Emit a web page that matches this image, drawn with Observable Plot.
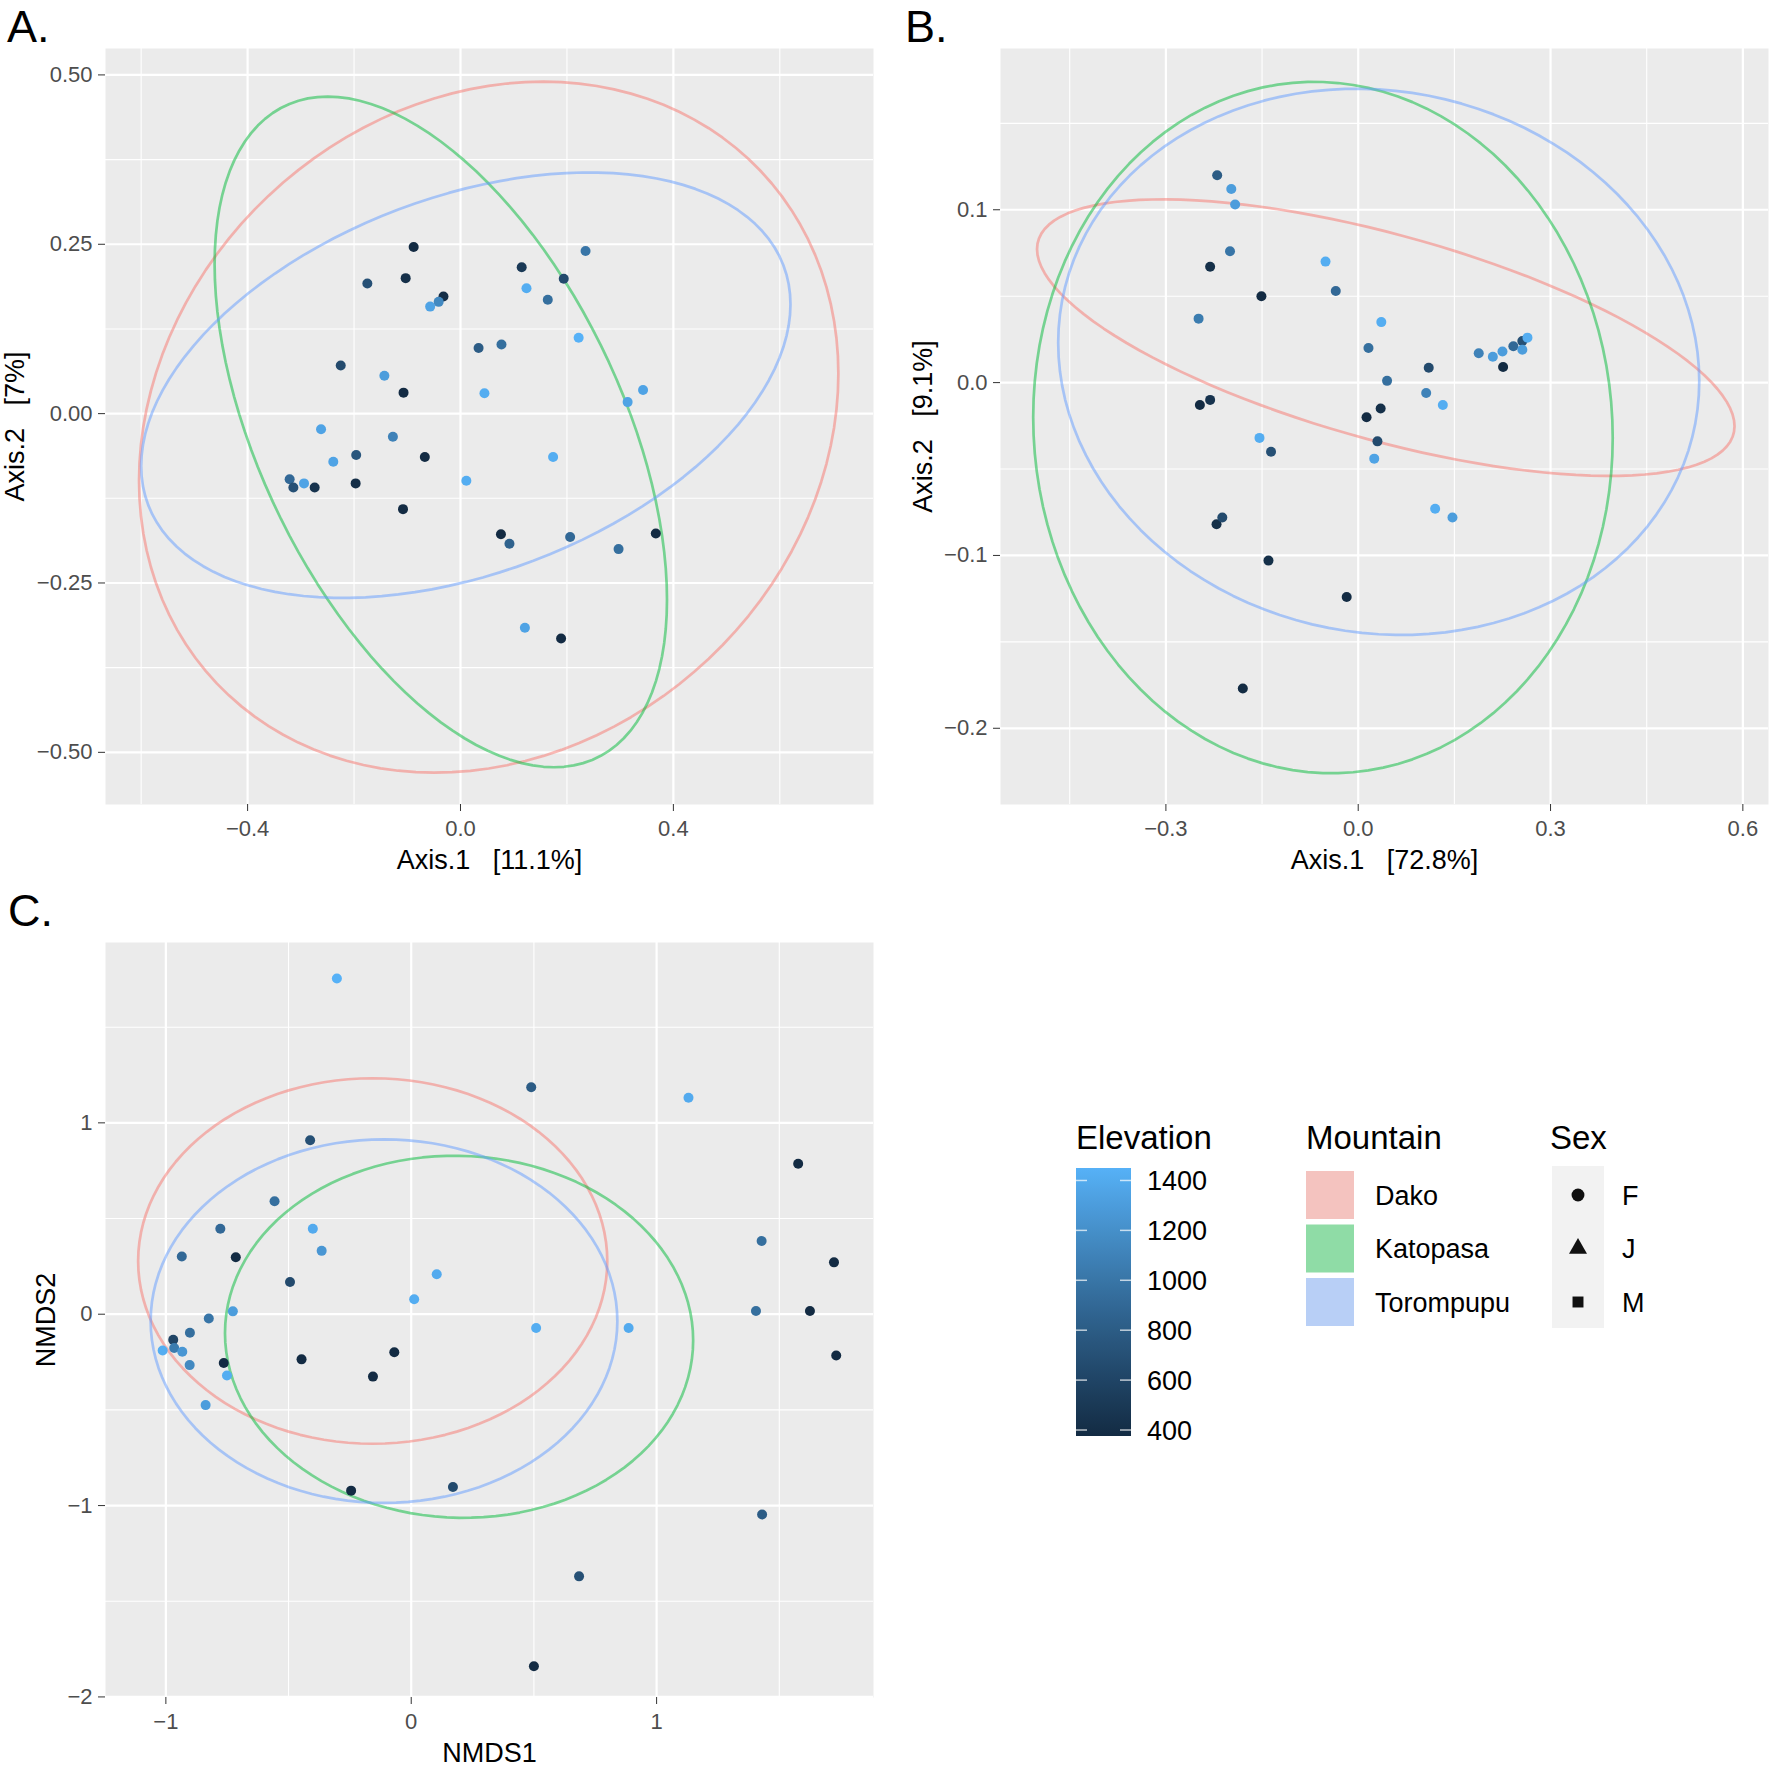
<!DOCTYPE html>
<html>
<head>
<meta charset="utf-8">
<script src="https://cdn.jsdelivr.net/npm/d3@7"></script>
<script src="https://cdn.jsdelivr.net/npm/@observablehq/plot@0.6"></script>
<style>
  html, body { margin: 0; padding: 0; background: #fff; }
  #fig { position: relative; width: 1770px; height: 1768px; overflow: hidden; background: #fff;
         font-family: "Liberation Sans", Arial, Helvetica, sans-serif; }
  #fig > .panel { position: absolute; }
  #fig > svg.overlay { position: absolute; left: 0; top: 0; pointer-events: none; }
</style>
</head>
<body>
<div id="fig"></div>
<script>
// ---------------- DATA ----------------
// Panel A (PCoA): Axis.1 [11.1%] vs Axis.2 [7%]
const aAxis1 = [-0.088, 0.235, 0.115, -0.175, -0.103, 0.194, -0.032, -0.057, -0.041, 0.124,
                 0.164, 0.222, 0.034, 0.077, -0.225, -0.143, -0.107, 0.045, 0.343, 0.314,
                -0.262, -0.127, -0.239, -0.196, -0.067, 0.174, -0.321, -0.314, -0.294, -0.274,
                -0.197, 0.011, -0.108, 0.076, 0.092, 0.206, 0.367, 0.297, 0.121, 0.189];
const aAxis2 = [0.246, 0.240, 0.216, 0.192, 0.200, 0.199, 0.173, 0.158, 0.165, 0.185,
                0.168, 0.112, 0.097, 0.102, 0.071, 0.056, 0.031, 0.030, 0.035, 0.017,
               -0.023, -0.034, -0.071, -0.061, -0.064, -0.064, -0.097, -0.109, -0.103, -0.109,
               -0.103, -0.099, -0.141, -0.178, -0.192, -0.182, -0.177, -0.200, -0.316, -0.332];
const aElev  = [376, 1000, 500, 700, 420, 650, 400, 1350, 1150, 1420,
                950, 1450, 800, 950, 650, 1300, 376, 1420, 1350, 1350,
                1350, 1100, 1350, 750, 376, 1420, 900, 700, 1350, 450,
                400, 1420, 376, 376, 850, 900, 376, 950, 1350, 376];

// Panel B (PCoA): Axis.1 [72.8%] vs Axis.2 [9.1%]
const bAxis1 = [-0.220, -0.198, -0.192, -0.200, -0.231, -0.151, -0.051, -0.035, -0.249, 0.036,
                 0.016, 0.045, 0.110, 0.106, 0.132, 0.188, 0.210, 0.225, 0.242, 0.256,
                 0.264, 0.256, 0.226, -0.247, -0.231, 0.013, 0.035, 0.030, 0.025, -0.154,
                -0.136, 0.120, 0.147, -0.221, -0.212, -0.140, -0.018, -0.180];
const bAxis2 = [0.120, 0.112, 0.103, 0.076, 0.067, 0.050, 0.070, 0.053, 0.037, 0.035,
                0.020, 0.001, 0.0086, -0.006, -0.013, 0.017, 0.015, 0.018, 0.021, 0.024,
                0.026, 0.019, 0.009, -0.013, -0.010, -0.020, -0.015, -0.034, -0.044, -0.032,
               -0.040, -0.073, -0.078, -0.082, -0.078, -0.103, -0.124, -0.177];
const bElev  = [800, 1300, 1300, 1000, 420, 376, 1420, 900, 1050, 1420,
                950, 950, 650, 1100, 1420, 1100, 1300, 1300, 900, 700,
                1420, 1300, 376, 376, 450, 376, 420, 650, 1350, 1420,
                700, 1420, 1300, 420, 650, 420, 376, 376];

// Panel C (NMDS): NMDS1 vs NMDS2
const cNMDS1 = [-0.303, -0.412, -0.557, -0.778, -0.401, -0.365, -0.935, -0.715, -0.494, 0.104,
                 0.012, -0.727, -0.825, -0.902, -0.970, -1.013, -0.966, -0.933, -0.903, -0.764,
                -0.751, -0.838, -0.447, -0.069, -0.156, -0.245, 0.170, 0.489, 1.130, 1.577,
                 1.428, 1.723, 1.405, 1.625, 1.732, 0.509, 0.886, 1.430, 0.684, 0.500];
const cNMDS2 = [1.754, 0.909, 0.590, 0.447, 0.447, 0.331, 0.302, 0.298, 0.168, 0.209,
                0.078, 0.015, -0.022, -0.097, -0.134, -0.190, -0.177, -0.196, -0.266, -0.255,
               -0.320, -0.475, -0.236, -0.199, -0.326, -0.922, -0.903, 1.186, 1.131, 0.786,
                0.383, 0.271, 0.017, 0.017, -0.216, -0.072, -0.072, -1.047, -1.370, -1.840];
const cElev  = [1450, 700, 950, 900, 1400, 1250, 900, 376, 650, 1400,
                1420, 1300, 1000, 950, 600, 1420, 1050, 1250, 1150, 376,
                1420, 1300, 376, 376, 376, 376, 650, 800, 1400, 376,
                950, 376, 950, 376, 376, 1420, 1400, 800, 700, 376];

// Mountains (ellipse groups) and their 95% ellipse parameters: centre, half-extent, correlation
const mountains = ["Dako", "Katopasa", "Torompupu"];
const aEllCx = [0.053, -0.037, 0.010],  aEllCy = [-0.020, -0.027, 0.042];
const aEllRx = [0.657, 0.425, 0.610],   aEllRy = [0.510, 0.495, 0.314];
const aEllRho = [0.155, -0.50, 0.38];
const bEllCx = [0.043, -0.055, 0.032],  bEllCy = [0.026, -0.026, 0.012];
const bEllRx = [0.544, 0.452, 0.500],   bEllRy = [0.080, 0.200, 0.158];
const bEllRho = [-0.64, -0.03, -0.07];
const cEllCx = [-0.157, 0.195, -0.111], cEllCy = [0.278, -0.118, -0.036];
const cEllRx = [0.956, 0.954, 0.951],   cEllRy = [0.955, 0.946, 0.950];
const cEllRho = [0.0, -0.02, 0.0];

// Tick values and labels
const aXMajor = [-0.4, 0, 0.4], aXMinor = [-0.6, -0.2, 0.2, 0.6];
const aXLabels = ["\u22120.4", "0.0", "0.4"];
const aYMajor = [-0.5, -0.25, 0, 0.25, 0.5], aYMinor = [-0.375, -0.125, 0.125, 0.375];
const aYLabels = ["\u22120.50", "\u22120.25", "0.00", "0.25", "0.50"];
const bXMajor = [-0.3, 0, 0.3, 0.6], bXMinor = [-0.45, -0.15, 0.15, 0.45];
const bXLabels = ["\u22120.3", "0.0", "0.3", "0.6"];
const bYMajor = [-0.2, -0.1, 0, 0.1], bYMinor = [-0.15, -0.05, 0.05, 0.15];
const bYLabels = ["\u22120.2", "\u22120.1", "0.0", "0.1"];
const cXMajor = [-1, 0, 1], cXMinor = [-0.5, 0.5, 1.5];
const cXLabels = ["\u22121", "0", "1"];
const cYMajor = [-2, -1, 0, 1], cYMinor = [-1.5, -0.5, 0.5, 1.5];
const cYLabels = ["\u22122", "\u22121", "0", "1"];

// Legend
const elevTicks = [1400, 1200, 1000, 800, 600, 400];
const sexes = ["F", "J", "M"];
const panelLetters = ["A.", "B.", "C."];
const axisTitles = {
  a: ["Axis.1\u00a0\u00a0\u00a0[11.1%]", "Axis.2\u00a0\u00a0\u00a0[7%]"],
  b: ["Axis.1\u00a0\u00a0\u00a0[72.8%]", "Axis.2\u00a0\u00a0\u00a0[9.1%]"],
  c: ["NMDS1", "NMDS2"]
};

// ---------------- STYLE ----------------
const fontFamily = '"Liberation Sans", Arial, Helvetica, sans-serif';
const mountainStroke = ["#F8766D", "#00BA38", "#619CFF"];
const mountainKeyFill = ["#F4C3BF", "#8FDCA6", "#B8CFF6"];
const elevRange = ["#132B43", "#56B1F7"];
const elevDomain = d3.extent([...aElev, ...bElev, ...cElev]);
const colorOpts = {type: "linear", domain: elevDomain, range: elevRange, interpolate: "lab"};

function ellipsePath(cx, cy, rx, ry, rho) {
  const phi = Math.acos(rho);
  return d3.range(0, 361, 3).map(deg => {
    const t = deg * Math.PI / 180;
    return {x: cx + rx * Math.cos(t), y: cy + ry * Math.cos(t - phi)};
  });
}

function panel(cfg) {
  const pts = cfg.x.map((x, i) => ({x, y: cfg.y[i], elev: cfg.elev[i]}));
  const ells = mountains.map((m, k) =>
    ellipsePath(cfg.ell[0][k], cfg.ell[1][k], cfg.ell[2][k], cfg.ell[3][k], cfg.ell[4][k]));
  const fx = new Map(cfg.xMajor.map((v, i) => [v, cfg.xLabels[i]]));
  const fy = new Map(cfg.yMajor.map((v, i) => [v, cfg.yLabels[i]]));
  return Plot.plot({
    width: cfg.width, height: cfg.height,
    marginLeft: cfg.m[0], marginRight: cfg.m[1], marginTop: cfg.m[2], marginBottom: cfg.m[3],
    x: {domain: cfg.xDomain, axis: null},
    y: {domain: cfg.yDomain, axis: null},
    color: colorOpts,
    style: {fontFamily, background: "transparent", overflow: "visible"},
    marks: [
      Plot.frame({fill: "#EBEBEB", stroke: "none"}),
      Plot.gridX(cfg.xMinor, {stroke: "#ffffff", strokeOpacity: 1, strokeWidth: 1.1}),
      Plot.gridY(cfg.yMinor, {stroke: "#ffffff", strokeOpacity: 1, strokeWidth: 1.1}),
      Plot.gridX(cfg.xMajor, {stroke: "#ffffff", strokeOpacity: 1, strokeWidth: 2.2}),
      Plot.gridY(cfg.yMajor, {stroke: "#ffffff", strokeOpacity: 1, strokeWidth: 2.2}),
      ...ells.map((e, k) => Plot.line(e, {x: "x", y: "y", stroke: mountainStroke[k],
                                          strokeOpacity: 0.5, strokeWidth: 2.7})),
      Plot.dot(pts, {x: "x", y: "y", fill: "elev", r: 5}),
      Plot.axisX(cfg.xMajor, {tickFormat: d => fx.get(d), fontSize: 22, tickSize: 7, tickPadding: 9,
                              stroke: "#333333", fill: "#4D4D4D", label: null}),
      Plot.axisY(cfg.yMajor, {tickFormat: d => fy.get(d), fontSize: 22, tickSize: 7, tickPadding: 6,
                              stroke: "#333333", fill: "#4D4D4D", label: null}),
      Plot.text([cfg.titles[0]], {text: d => d, frameAnchor: "bottom", lineAnchor: "top",
                                  dy: 45, fontSize: 27, fill: "#000"}),
      Plot.text([cfg.titles[1]], {text: d => d, frameAnchor: "left", rotate: -90, lineAnchor: "top",
                                  textAnchor: "middle", dx: -cfg.yTitleOffset, fontSize: 27, fill: "#000"})
    ]
  });
}

const fig = document.getElementById("fig");
function place(node, left, top) {
  node.classList.add("panel");
  node.style.left = left + "px";
  node.style.top = top + "px";
  fig.appendChild(node);
}

place(panel({
  x: aAxis1, y: aAxis2, elev: aElev,
  ell: [aEllCx, aEllCy, aEllRx, aEllRy, aEllRho],
  xDomain: [-0.667, 0.776], yDomain: [-0.577, 0.539],
  xMajor: aXMajor, xMinor: aXMinor, xLabels: aXLabels,
  yMajor: aYMajor, yMinor: aYMinor, yLabels: aYLabels,
  titles: axisTitles.a, yTitleOffset: 101,
  width: 890, height: 880, m: [105, 17, 48, 76]
}), 0, 0);

place(panel({
  x: bAxis1, y: bAxis2, elev: bElev,
  ell: [bEllCx, bEllCy, bEllRx, bEllRy, bEllRho],
  xDomain: [-0.558, 0.640], yDomain: [-0.2441, 0.1933],
  xMajor: bXMajor, xMinor: bXMinor, xLabels: bXLabels,
  yMajor: bYMajor, yMinor: bYMinor, yLabels: bYLabels,
  titles: axisTitles.b, yTitleOffset: 88,
  width: 880, height: 880, m: [110, 2, 48, 76]
}), 890, 0);

place(panel({
  x: cNMDS1, y: cNMDS2, elev: cElev,
  ell: [cEllCx, cEllCy, cEllRx, cEllRy, cEllRho],
  xDomain: [-1.246, 1.884], yDomain: [-2.003, 1.9425],
  xMajor: cXMajor, xMinor: cXMinor, xLabels: cXLabels,
  yMajor: cYMajor, yMinor: cYMinor, yLabels: cYLabels,
  titles: axisTitles.c, yTitleOffset: 70,
  width: 890, height: 888, m: [105, 17, 62, 71]
}), 0, 880);

// ---------------- LETTERS + LEGEND (overlay) ----------------
const ov = d3.select(fig).append("svg").attr("class", "overlay")
  .attr("width", 1770).attr("height", 1768)
  .style("font-family", fontFamily);

const letterPos = [[7, 42], [905, 42], [8, 926]];
panelLetters.forEach((t, i) => ov.append("text").attr("x", letterPos[i][0]).attr("y", letterPos[i][1])
  .attr("font-size", 45).attr("fill", "#000").text(t));

// Elevation colour bar
const cscale = Plot.scale({color: colorOpts});
const barX = 1076, barW = 55, barTop = 1168, barBottom = 1436;
const ey = d3.scaleLinear().domain(elevDomain).range([barBottom, barTop]);
const grad = ov.append("defs").append("linearGradient").attr("id", "elevGrad")
  .attr("x1", 0).attr("y1", 1).attr("x2", 0).attr("y2", 0);
d3.range(0, 1.0001, 0.05).forEach(t => grad.append("stop").attr("offset", t)
  .attr("stop-color", cscale.apply(elevDomain[0] + t * (elevDomain[1] - elevDomain[0]))));
ov.append("text").attr("x", 1076).attr("y", 1149).attr("font-size", 33).attr("fill", "#000").text("Elevation");
ov.append("rect").attr("x", barX).attr("y", barTop).attr("width", barW).attr("height", barBottom - barTop)
  .attr("fill", "url(#elevGrad)");
elevTicks.forEach(v => {
  const y = ey(v);
  ov.append("line").attr("x1", barX).attr("x2", barX + 11).attr("y1", y).attr("y2", y)
    .attr("stroke", "#fff").attr("stroke-opacity", 0.7).attr("stroke-width", 1.5);
  ov.append("line").attr("x1", barX + barW - 11).attr("x2", barX + barW).attr("y1", y).attr("y2", y)
    .attr("stroke", "#fff").attr("stroke-opacity", 0.7).attr("stroke-width", 1.5);
  ov.append("text").attr("x", 1147).attr("y", y).attr("dy", "0.36em").attr("font-size", 27)
    .attr("fill", "#000").text(v);
});

// Mountain legend
ov.append("text").attr("x", 1306).attr("y", 1149).attr("font-size", 33).attr("fill", "#000").text("Mountain");
mountains.forEach((m, i) => {
  const cy = 1195 + i * 53.5;
  ov.append("rect").attr("x", 1306).attr("y", cy - 24).attr("width", 48).attr("height", 48)
    .attr("fill", mountainKeyFill[i]);
  ov.append("text").attr("x", 1375).attr("y", cy).attr("dy", "0.36em").attr("font-size", 27)
    .attr("fill", "#000").text(m);
});

// Sex legend
ov.append("text").attr("x", 1550).attr("y", 1149).attr("font-size", 33).attr("fill", "#000").text("Sex");
ov.append("rect").attr("x", 1552).attr("y", 1166).attr("width", 52).attr("height", 162).attr("fill", "#F2F2F2");
const symTypes = [d3.symbolCircle, d3.symbolTriangle, d3.symbolSquare];
const symSizes = [130, 140, 120];
sexes.forEach((s, i) => {
  const cy = 1195 + i * 53.5;
  ov.append("path").attr("d", d3.symbol(symTypes[i], symSizes[i])())
    .attr("transform", `translate(1578,${cy})`).attr("fill", "#111");
  ov.append("text").attr("x", 1622).attr("y", cy).attr("dy", "0.36em").attr("font-size", 27)
    .attr("fill", "#000").text(s);
});
</script>
</body>
</html>
